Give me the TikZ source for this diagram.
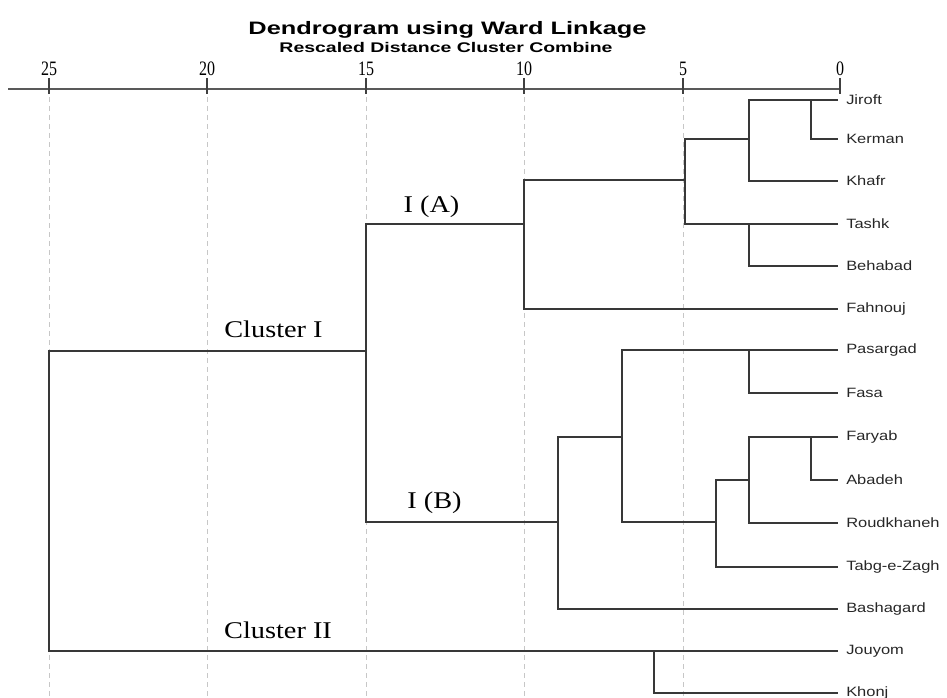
\documentclass[tikz,border=0pt]{standalone}
\usepackage{fontspec}
\setmainfont{Liberation Serif}
\newfontfamily\arialf{Liberation Sans}
\begin{document}
\begin{tikzpicture}[x=1pt,y=-1pt,
  link/.style={draw=black!78, line width=1.7pt},
  grid/.style={draw=black!22, line width=1pt, dash pattern=on 5pt off 4pt},
  axisline/.style={draw=black!65, line width=2.4pt},
  tickmark/.style={draw=black!75, line width=1.4pt},
  leaf/.style={anchor=west, inner sep=0pt, font=\arialf\fontsize{13.5}{14}\selectfont, xscale=1.22, text=black!85},
  ticklab/.style={anchor=base, inner sep=0pt, font=\fontsize{20.5}{20.5}\selectfont, xscale=0.78},
  clab/.style={anchor=base, inner sep=0pt, font=\fontsize{24}{24}\selectfont, xscale=1.18}]
\useasboundingbox (0,0) rectangle (947,698);
% title
\node[anchor=base, inner sep=0pt, font=\arialf\bfseries\fontsize{18}{18}\selectfont, xscale=1.41] (title) at (447.5,35) {Dendrogram using Ward Linkage};
\node[anchor=base, inner sep=0pt, font=\arialf\bfseries\fontsize{14}{14}\selectfont, xscale=1.39] (subtitle) at (446,53) {Rescaled Distance Cluster Combine};
% grid lines
\foreach \gx in {49,207,366,524,683} \draw[grid] (\gx,97) -- (\gx,698);
% axis
\coordinate (axL) at (8,89);
\coordinate (axR) at (840,89);
\draw[axisline] (axL) -- (axR);
\foreach \gx/\lab in {49/25,207/20,366/15,524/10,683/5,840/0}{
  \draw[tickmark] (\gx,78) -- (\gx,94);
  \node[ticklab] (t\lab) at (\gx,76) {\lab};
}
% leaves
\foreach \nm/\yy in {Jiroft/100,Kerman/139,Khafr/181,Tashk/224,Behabad/266,Fahnouj/309,Pasargad/350,Fasa/393,Faryab/437,Abadeh/480,Roudkhaneh/523,Tabg-e-Zagh/567,Bashagard/609,Jouyom/651,Khonj/693}{
  \coordinate (e\nm) at (838,\yy);
  \node[leaf] (n\nm) at (846,\yy) {\nm};
}
% merge points (x, representative y)
\coordinate (m1) at (811,100);
\coordinate (m2) at (749,139);
\coordinate (m3) at (749,224);
\coordinate (m4) at (685,180);
\coordinate (m5) at (524,224);
\coordinate (m6) at (749,350);
\coordinate (m7) at (811,437);
\coordinate (m8) at (749,480);
\coordinate (m9) at (716,522);
\coordinate (m10) at (622,437);
\coordinate (m11) at (558,522);
\coordinate (m12) at (366,351);
\coordinate (m13) at (654,651);
\coordinate (m14) at (49,500);
% joins
\newcommand\joinpair[3]{\draw[link] (#2) -- (#2 -| #1) -- (#3 -| #1) -- (#3);}
\joinpair{m1}{eJiroft}{eKerman}
\joinpair{m2}{m1}{eKhafr}
\joinpair{m3}{eTashk}{eBehabad}
\joinpair{m4}{m2}{m3}
\joinpair{m5}{m4}{eFahnouj}
\joinpair{m6}{ePasargad}{eFasa}
\joinpair{m7}{eFaryab}{eAbadeh}
\joinpair{m8}{m7}{eRoudkhaneh}
\joinpair{m9}{m8}{eTabg-e-Zagh}
\joinpair{m10}{m6}{m9}
\joinpair{m11}{m10}{eBashagard}
\joinpair{m12}{m5}{m11}
\joinpair{m13}{eJouyom}{eKhonj}
\joinpair{m14}{m12}{m13}
% cluster labels
\node[clab] (lA) at (431.5,212) {I (A)};
\node[clab] (lC1) at (273.5,337) {Cluster I};
\node[clab] (lB) at (434.5,508) {I (B)};
\node[clab] (lC2) at (278,638) {Cluster II};
\end{tikzpicture}
\end{document}
